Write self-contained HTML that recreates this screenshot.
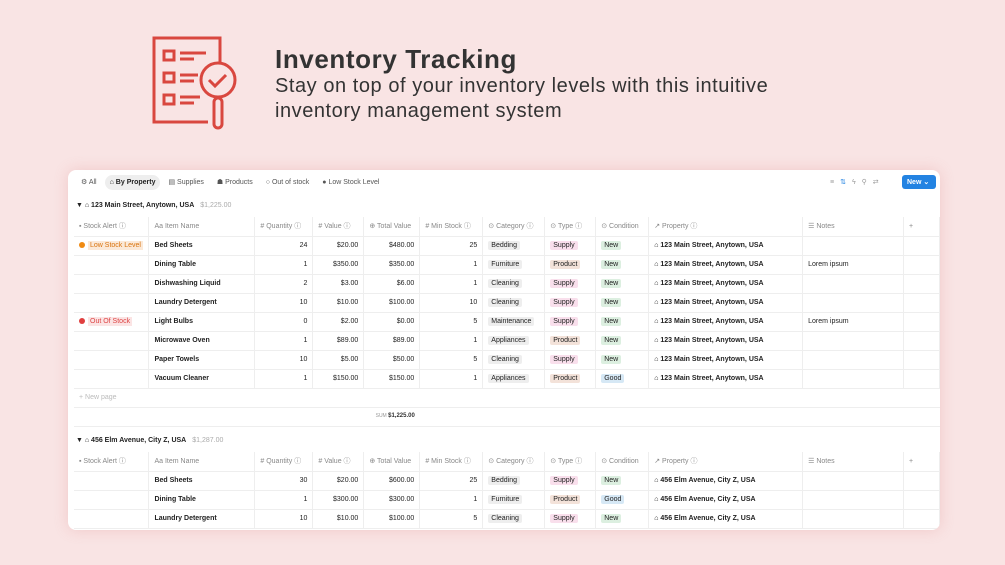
<!DOCTYPE html><html><head><style>
*{margin:0;padding:0;box-sizing:border-box}
body{width:1005px;height:565px;background:#f9e4e4;font-family:"Liberation Sans",sans-serif;position:relative;overflow:hidden}
.t1{position:absolute;left:275px;top:44px;font-size:26px;font-weight:bold;color:#333;letter-spacing:0.6px}
.t2{position:absolute;left:275px;top:74px;font-size:20px;line-height:25px;color:#333;letter-spacing:0.55px}
.card{position:absolute;left:68px;top:170px;width:872px;height:360px;background:#fff;border-radius:8px;overflow:hidden;box-shadow:0 0 14px rgba(220,120,120,.25)}
.tabs{position:absolute;left:8px;top:5px;font-size:7px;color:#555;display:flex;gap:3px;line-height:9px}
.tabs span{padding:3px 5px;border-radius:8px}
.tabs .on{background:#eee;color:#222;font-weight:bold}
.new{position:absolute;left:834px;top:5px;width:34px;height:14px;background:#2383e2;border-radius:3px;color:#fff;font-size:7px;font-weight:bold;padding:3px 5px}
.grp{position:absolute;left:8px;font-size:7px;font-weight:bold;color:#222}
.grp i{font-style:normal;font-weight:normal;color:#aaa;margin-left:6px}
table{position:absolute;left:6px;border-collapse:collapse;table-layout:fixed;font-size:7px;color:#222}
td{height:19px;line-height:9px;border-bottom:1px solid #eee;border-right:1px solid #eee;padding:0 5px;white-space:nowrap;overflow:hidden;vertical-align:middle}
tr.h td{color:#888;font-weight:normal}
td.n{text-align:right}
td.b{font-weight:bold}
.p{padding:1px 3px;border-radius:2px}
.g{background:#eee}.s{background:#f9dfec}.pr{background:#f3e2d9}.nw{background:#dcefe0}.gd{background:#d6e8f5}
.lo{background:#fbe9d8;color:#d9730d;padding:1px 2px}.oo{background:#fbe4e4;color:#d44;padding:1px 2px}
.dot{display:inline-block;width:6px;height:6px;border-radius:50%;margin-right:3px;vertical-align:-1px}
</style></head><body>
<svg style="position:absolute;left:150px;top:34px" width="90" height="98" viewBox="0 0 90 98" fill="none" stroke="#d9473f" stroke-width="3">
<polyline points="70,30 70,4 4,4 4,88 58,88"/>
<rect x="14" y="17" width="10" height="9"/><rect x="14" y="39" width="10" height="9"/><rect x="14" y="61" width="10" height="9"/>
<path d="M30 19h26M30 25h14M30 41h18M30 47h14M30 63h20M30 69h14"/>
<circle cx="68" cy="46" r="17" fill="#f9e4e4"/><path d="M59 46l6 6 11-11"/><rect x="64" y="64" width="8" height="30" rx="4"/></svg>
<div class="t1">Inventory Tracking</div>
<div class="t2">Stay on top of your inventory levels with this intuitive<br>inventory management system</div>
<div class="card">
<div class="tabs"><span>⚙ All</span><span class="on">⌂ By Property</span><span>▤ Supplies</span><span>☗ Products</span><span>○ Out of stock</span><span>● Low Stock Level</span></div>
<div style="position:absolute;left:762px;top:8px;font-size:7px;color:#999;letter-spacing:6px">≡<span style="color:#2383e2">⇅</span>ϟ⚲⇄</div>
<div class="new">New ⌄</div>
<div class="grp" style="top:32px">▼ ⌂ 123 Main Street, Anytown, USA<i>$1,225.00</i></div>
<table style="top:47px"><colgroup><col width=75><col width=106><col width=58><col width=51><col width=56><col width=63><col width=62><col width=51><col width=53><col width=154><col width=101><col width=36></colgroup>
<tr class="h"><td>▪ Stock Alert ⓘ</td><td>Aa Item Name</td><td># Quantity ⓘ</td><td># Value ⓘ</td><td>⊕ Total Value</td><td># Min Stock ⓘ</td><td>⊙ Category ⓘ</td><td>⊙ Type ⓘ</td><td>⊙ Condition</td><td>↗ Property ⓘ</td><td>☰ Notes</td><td>+</td></tr>
<tr><td><span class="dot" style="background:#f08a12"></span><span class="lo">Low Stock Level</span></td><td class="b">Bed Sheets</td><td class="n">24</td><td class="n">$20.00</td><td class="n">$480.00</td><td class="n">25</td><td><span class="p g">Bedding</span></td><td><span class="p s">Supply</span></td><td><span class="p nw">New</span></td><td class="b">⌂ 123 Main Street, Anytown, USA</td><td></td><td></td></tr>
<tr><td></td><td class="b">Dining Table</td><td class="n">1</td><td class="n">$350.00</td><td class="n">$350.00</td><td class="n">1</td><td><span class="p g">Furniture</span></td><td><span class="p pr">Product</span></td><td><span class="p nw">New</span></td><td class="b">⌂ 123 Main Street, Anytown, USA</td><td>Lorem ipsum</td><td></td></tr>
<tr><td></td><td class="b">Dishwashing Liquid</td><td class="n">2</td><td class="n">$3.00</td><td class="n">$6.00</td><td class="n">1</td><td><span class="p g">Cleaning</span></td><td><span class="p s">Supply</span></td><td><span class="p nw">New</span></td><td class="b">⌂ 123 Main Street, Anytown, USA</td><td></td><td></td></tr>
<tr><td></td><td class="b">Laundry Detergent</td><td class="n">10</td><td class="n">$10.00</td><td class="n">$100.00</td><td class="n">10</td><td><span class="p g">Cleaning</span></td><td><span class="p s">Supply</span></td><td><span class="p nw">New</span></td><td class="b">⌂ 123 Main Street, Anytown, USA</td><td></td><td></td></tr>
<tr><td><span class="dot" style="background:#e03e3e"></span><span class="oo">Out Of Stock</span></td><td class="b">Light Bulbs</td><td class="n">0</td><td class="n">$2.00</td><td class="n">$0.00</td><td class="n">5</td><td><span class="p g">Maintenance</span></td><td><span class="p s">Supply</span></td><td><span class="p nw">New</span></td><td class="b">⌂ 123 Main Street, Anytown, USA</td><td>Lorem ipsum</td><td></td></tr>
<tr><td></td><td class="b">Microwave Oven</td><td class="n">1</td><td class="n">$89.00</td><td class="n">$89.00</td><td class="n">1</td><td><span class="p g">Appliances</span></td><td><span class="p pr">Product</span></td><td><span class="p nw">New</span></td><td class="b">⌂ 123 Main Street, Anytown, USA</td><td></td><td></td></tr>
<tr><td></td><td class="b">Paper Towels</td><td class="n">10</td><td class="n">$5.00</td><td class="n">$50.00</td><td class="n">5</td><td><span class="p g">Cleaning</span></td><td><span class="p s">Supply</span></td><td><span class="p nw">New</span></td><td class="b">⌂ 123 Main Street, Anytown, USA</td><td></td><td></td></tr>
<tr><td></td><td class="b">Vacuum Cleaner</td><td class="n">1</td><td class="n">$150.00</td><td class="n">$150.00</td><td class="n">1</td><td><span class="p g">Appliances</span></td><td><span class="p pr">Product</span></td><td><span class="p gd">Good</span></td><td class="b">⌂ 123 Main Street, Anytown, USA</td><td></td><td></td></tr>
<tr><td colspan="12" style="color:#bbb;border-right:none">+ New page</td></tr>
<tr><td colspan="4" style="border-right:none"></td><td class="n" style="font-size:5px;color:#999;border-right:none">SUM <b style="color:#333;font-size:6px">$1,225.00</b></td><td colspan="7" style="border-right:none"></td></tr>
</table>
<div class="grp" style="top:267px">▼ ⌂ 456 Elm Avenue, City Z, USA<i>$1,287.00</i></div>
<table style="top:282px"><colgroup><col width=75><col width=106><col width=58><col width=51><col width=56><col width=63><col width=62><col width=51><col width=53><col width=154><col width=101><col width=36></colgroup>
<tr class="h"><td>▪ Stock Alert ⓘ</td><td>Aa Item Name</td><td># Quantity ⓘ</td><td># Value ⓘ</td><td>⊕ Total Value</td><td># Min Stock ⓘ</td><td>⊙ Category ⓘ</td><td>⊙ Type ⓘ</td><td>⊙ Condition</td><td>↗ Property ⓘ</td><td>☰ Notes</td><td>+</td></tr>
<tr><td></td><td class="b">Bed Sheets</td><td class="n">30</td><td class="n">$20.00</td><td class="n">$600.00</td><td class="n">25</td><td><span class="p g">Bedding</span></td><td><span class="p s">Supply</span></td><td><span class="p nw">New</span></td><td class="b">⌂ 456 Elm Avenue, City Z, USA</td><td></td><td></td></tr>
<tr><td></td><td class="b">Dining Table</td><td class="n">1</td><td class="n">$300.00</td><td class="n">$300.00</td><td class="n">1</td><td><span class="p g">Furniture</span></td><td><span class="p pr">Product</span></td><td><span class="p gd">Good</span></td><td class="b">⌂ 456 Elm Avenue, City Z, USA</td><td></td><td></td></tr>
<tr><td></td><td class="b">Laundry Detergent</td><td class="n">10</td><td class="n">$10.00</td><td class="n">$100.00</td><td class="n">5</td><td><span class="p g">Cleaning</span></td><td><span class="p s">Supply</span></td><td><span class="p nw">New</span></td><td class="b">⌂ 456 Elm Avenue, City Z, USA</td><td></td><td></td></tr>
</table>
</div>
</body></html>
